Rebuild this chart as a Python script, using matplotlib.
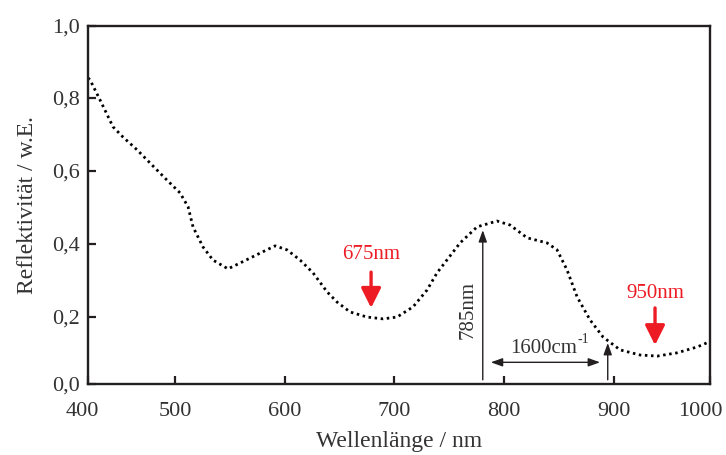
import matplotlib.pyplot as plt
import matplotlib.transforms as mtrans
import numpy as np

# reflectance spectrum
wavelength = [420.7, 422.5, 431.6, 443.5, 452.6, 465.4, 477.2, 492.7, 504.6, 511.9,
              516.4, 525.5, 534.6, 548.3, 559.3, 577.5, 591.2, 602.1, 614.0, 625.8,
              638.6, 647.7, 659.5, 675.0, 689.6, 702.4, 717.0, 729.7, 738.8, 759.8,
              775.3, 793.5, 805.4, 820.9, 839.1, 848.2, 857.3, 866.5, 878.3, 890.2,
              905.7, 923.9, 939.4, 957.6, 975.9, 987.6]
reflect = [0.854, 0.849, 0.794, 0.720, 0.692, 0.657, 0.621, 0.574, 0.539, 0.501,
           0.446, 0.391, 0.355, 0.331, 0.347, 0.374, 0.394, 0.383, 0.355, 0.320,
           0.268, 0.240, 0.213, 0.199, 0.194, 0.199, 0.227, 0.273, 0.320, 0.402,
           0.446, 0.462, 0.451, 0.416, 0.402, 0.383, 0.328, 0.254, 0.191, 0.144,
           0.109, 0.095, 0.092, 0.101, 0.117, 0.132]

xtick_pos = [420.7, 500, 600, 700, 800, 900, 987.6]
xtick_lbl = ['400', '500', '600', '700', '800', '900', '1000']
ytick_pos = [0.0156, 0.2, 0.4, 0.6, 0.8, 0.997]
ytick_lbl = ['0,0', '0,2', '0,4', '0,6', '0,8', '1,0']

red = '#ed1c24'
dark = '#231f20'
txt = '#333333'

plt.rcParams['font.family'] = ['Liberation Serif', 'DejaVu Serif']

fig = plt.figure(figsize=(7.26, 4.55), dpi=100)
ax = fig.add_axes([88/726, (455-384)/455, (710-88)/726, (384-25.7)/455])

ax.plot(wavelength, reflect, color='black', lw=2.0, linestyle=(0, (0.9, 1.3)))

ax.set_xlim(xtick_pos[0], xtick_pos[-1])
ax.set_ylim(ytick_pos[0], ytick_pos[-1])
ax.set_xticks(xtick_pos)
ax.set_xticklabels(xtick_lbl)
ax.set_yticks(ytick_pos)
ax.set_yticklabels(ytick_lbl)
ax.tick_params(direction='in', length=6, width=1.6, color=dark, labelsize=16,
               labelcolor=txt, pad=6)
ax.tick_params(axis='x', pad=13)
for s in ax.spines.values():
  s.set_linewidth(1.7)
  s.set_color(dark)

# end labels sit a bit left of the frame corners in the original
xl = ax.get_xticklabels()
xl[0].set_transform(xl[0].get_transform() + mtrans.ScaledTranslation(-6/100, 0, fig.dpi_scale_trans))
xl[-1].set_transform(xl[-1].get_transform() + mtrans.ScaledTranslation(-10/100, 0, fig.dpi_scale_trans))

ax.set_xlabel('Wellenlänge / nm', fontsize=17, color=txt, labelpad=7)
ax.set_ylabel('Reflektivität / w.E.', fontsize=17, color=txt, labelpad=10)

# red minimum markers
red_arrow = dict(arrowstyle='-|>,head_length=0.6,head_width=0.3', color=red,
                 lw=2.4, mutation_scale=20, shrinkA=0, shrinkB=0)
ax.annotate('', xy=(678.7, 0.224), xytext=(678.7, 0.322), arrowprops=red_arrow)
ax.text(678.7, 0.369, '675nm', color=red, fontsize=15, ha='center', va='center')
ax.annotate('', xy=(937.5, 0.122), xytext=(937.5, 0.224), arrowprops=red_arrow)
ax.text(937.5, 0.264, '950nm', color=red, fontsize=15, ha='center', va='center')

# excitation line and raman shift
thin = dict(arrowstyle='-|>,head_length=0.7,head_width=0.25', color=dark,
            lw=1.0, mutation_scale=10, shrinkA=0, shrinkB=0)
ax.annotate('', xy=(780.5, 0.437), xytext=(780.5, 0.027), arrowprops=thin)
ax.text(767.1, 0.218, '785nm', rotation=90, fontsize=15, color=txt,
        ha='center', va='center')
ax.annotate('', xy=(894.4, 0.128), xytext=(894.4, 0.027), arrowprops=thin)
both = dict(arrowstyle='<|-|>,head_length=0.7,head_width=0.25', color=dark,
            lw=1.0, mutation_scale=10, shrinkA=0, shrinkB=0)
ax.annotate('', xy=(887.4, 0.075), xytext=(787.8, 0.075), arrowprops=both)
ax.text(836, 0.114, '1600cm', fontsize=15, color=txt, ha='center', va='center')
ax.annotate('-1', xy=(836, 0.114), xytext=(24.5, 6), textcoords='offset points',
            fontsize=10, color=txt, ha='left', va='center')

fig.savefig('out.png', dpi=100)
